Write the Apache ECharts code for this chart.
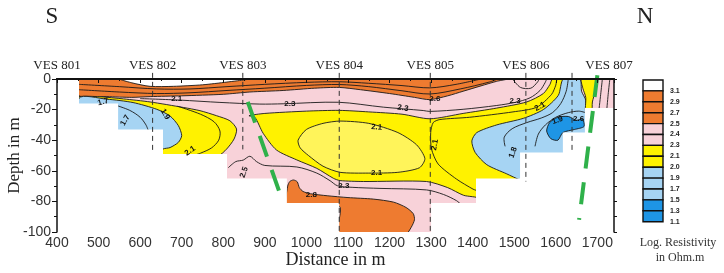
<!DOCTYPE html>
<html>
<head>
<meta charset="utf-8">
<script src="https://cdn.jsdelivr.net/npm/echarts@6/dist/echarts.min.js"></script>
<style>
  html, body { margin: 0; padding: 0; background: #fff; }
  #chart { width: 724px; height: 273px; }
</style>
</head>
<body>
<div id="chart"></div>
<script>
// soundings along the profile
var vesNames = ['VES 801', 'VES 802', 'VES 803', 'VES 804', 'VES 805', 'VES 806', 'VES 807'];
var vesDist = [400, 630, 847, 1079, 1298, 1528, 1728];
// dashed sounding lines [distance, deepest point]
var vesLines = [[630, -48], [847, -46], [1079, -100], [1298, -100], [1528, -67], [1639, -47]];

// bottom of the surveyed section, step by step [from distance, depth]
var coverEdge = [[453, -16], [547, -33], [655, -49], [809, -65], [953, -81], [1079, -100],
  [1300, -81], [1408, -65], [1514, -48], [1617, -35], [1670, -19]];
var coverEnd = 1740;

var orangeTop = [[453, 0], [1483, 0], [1458, -1.5], [1420, -4.5], [1377, -8], [1340, -11], [1297, -13.5],
  [1260, -12], [1200, -9.5], [1130, -7], [1079, -5.5], [1020, -6], [944, -7.5], [864, -8.5], [800, -10],
  [700, -11], [624, -11.5], [580, -12], [520, -11.5], [453, -11]];
var orangeLine1 = [[453, -3.5], [550, -5], [640, -6.5], [720, -6.5], [809, -5], [900, -3.5], [1000, -2.2],
  [1079, -1.8], [1150, -2.8], [1230, -4.3], [1297, -5.8], [1360, -3.5], [1420, 0]];
var orangeLine2 = [[453, -7], [550, -8.5], [640, -9.5], [720, -9], [809, -7.5], [900, -6], [1000, -4.2],
  [1079, -3.6], [1150, -5], [1230, -7.7], [1297, -9.8], [1370, -6.5], [1440, -2], [1460, 0]];
var whiteCap = [[552, 0], [580, -2.5], [624, -4.8], [680, -4.8], [750, -3.8], [809, -2], [860, 0]];
var line23 = [[600, -12.8], [696, -13.8], [792, -15.3], [888, -16.4], [944, -16.2], [1077, -15.2], [1185, -18.4],
  [1281, -20.6], [1297, -21.2], [1377, -19.8], [1458, -17.3], [1502, -15.3], [1538, -12.3], [1562, -7.5],
  [1574, -2.5], [1578, 0]];
var line25 = [[812, -58], [830, -54], [848, -53], [864, -50.5], [880, -54], [900, -56.5], [977, -57.5],
  [1025, -61.5], [1057, -66.5], [1075, -69.8], [1110, -70.8], [1177, -71.5], [1289, -72.5], [1330, -75.5],
  [1361, -79.5], [1372, -82]];
var pinkArc = [[1496, 0], [1515, -5.5], [1540, -6], [1556, -2], [1560, 0]];
var leftYellow = [[453, -11.5], [503, -11.6], [560, -13], [624, -15], [704, -18.6], [744, -20.7], [784, -24],
  [816, -27.3], [832, -32.7], [826, -39.2], [808, -45.8], [788, -50], [650, -50], [600, -35], [453, -14]];
var leftYellowLine = [[690, -17.8], [745, -23], [778, -28], [792, -34], [789, -40], [772, -45], [745, -48.5], [728, -50]];
var leftBlue = [[453, -12.6], [520, -13.2], [583, -15.4], [640, -19.8], [672, -24.2], [692, -30.5], [700, -37],
  [692, -41.4], [672, -44.8], [655, -45.8], [640, -50], [453, -50]];
var leftBlueLine = [[540, -17], [575, -20.5], [600, -25], [614, -30], [620, -34]];
var mainYellow = [[862, -24], [900, -22.5], [1000, -21], [1079, -20.5], [1150, -21.5], [1230, -23], [1297, -26],
  [1377, -22.5], [1458, -19], [1530, -15], [1570, -9.5], [1586, -3.5], [1592, 0], [1625, 0], [1625, -40],
  [1560, -70], [1430, -90], [1418, -78.4], [1378, -76], [1340, -71], [1289, -67], [1137, -67], [1081, -66.4],
  [1065, -64.9], [1025, -58.4], [977, -52.9], [928, -46.4], [896, -35.5], [876, -25]];
var ellipse21 = [[980, -40], [1000, -33], [1040, -29], [1081, -27.5], [1150, -29], [1220, -35], [1265, -43],
  [1285, -52], [1272, -58], [1220, -61], [1150, -61.5], [1081, -61], [1040, -57], [1005, -50], [985, -45]];
var rightInner = [[1299, -35], [1305, -28.5], [1321, -26.5], [1393, -25], [1497, -21.5], [1554, -18.5],
  [1590, -10], [1600, -4], [1604, 0], [1640, 0], [1640, -35], [1560, -70], [1450, -85], [1418, -74],
  [1401, -72], [1361, -65.4], [1317, -55.6], [1301, -45.8]];
var rightBlue = [[1618, 0], [1658, 0], [1662, -8], [1672, -14], [1676, -45], [1600, -75], [1514, -66],
  [1482, -62], [1434, -56], [1406, -48], [1398, -40.5], [1410, -35], [1458, -30], [1522, -25.7],
  [1570, -20], [1606, -10.7]];
var blueLine1 = [[1478, -44], [1476, -38], [1495, -32.5], [1530, -28.5], [1565, -25.5], [1592, -22],
  [1612, -16], [1625, -8], [1630, 0]];
var blueLine2 = [[1550, -44], [1558, -36], [1575, -30], [1600, -25], [1630, -22], [1655, -21], [1672, -22]];
var darkBlue = [[1578, -34], [1585, -28.5], [1605, -25], [1630, -24.5], [1650, -27], [1664, -26],
  [1668, -31], [1645, -33], [1617, -35], [1605, -40], [1588, -39]];
var topRightYellow = [[1662, 0], [1700, 0], [1695, -8], [1688, -15], [1686, -22], [1672, -22], [1672, -12], [1665, -6]];
var pinkLineR1 = [[1712, 0], [1708, -10], [1703, -22]];
var pinkLineR2 = [[1730, 0], [1726, -10], [1722, -22]];
var bottomOrange = [[953, -83], [955, -70], [960, -67], [969, -66], [978, -67.2], [983, -71], [992, -73.5],
  [1010, -75], [1050, -76.3], [1100, -77.5], [1161, -78.5], [1210, -80.5], [1240, -84], [1257, -88],
  [1260, -92], [1252, -97], [1240, -101], [1079, -101], [1079, -83]];

// faults
var fault1 = [[859, -15], [943, -80]];
var fault2 = [[1700, 2.5], [1656, -92]];

// contour labels [distance, depth, text, angle]
var contourLabels = [
  [511, -15, '1.7', 15], [564, -27, '1.7', 60], [660, -23, '1.9', -60], [688, -13, '2.1', 0],
  [720, -47, '2.1', 35], [850, -61, '2.5', 70], [960, -16, '2.3', 0], [1232, -19, '2.3', -8],
  [1169, -31.5, '2.1', -5], [1169, -61, '2.1', 0], [1090, -70, '2.3', 0], [1309, -43, '2.1', 80],
  [1309, -13, '2.6', 0], [1012, -76, '2.8', 0], [1502, -14, '2.3', 0], [1562, -18, '2.1', 30],
  [1604, -27, '1.9', 20], [1497, -48, '1.8', 70], [1655, -26, '2.6', 0]
];

// legend
var legendColors = ['#ffffff', '#ee7b30', '#ee7b30', '#ee7b30', '#f8d2d9', '#f8d2d9', '#fff200', '#fff200',
  '#a6d4f3', '#a6d4f3', '#a6d4f3', '#1e95e5', '#1e95e5'];
var legendLabels = ['3.1', '2.9', '2.7', '2.5', '2.4', '2.3', '2.1', '2.0', '1.9', '1.7', '1.5', '1.3', '1.1'];

var PINK = '#f8d2d9', ORANGE = '#ee7b30', YELLOW = '#fff200', YELLOW2 = '#fff45a',
    LBLUE = '#a6d4f3', DBLUE = '#1e95e5', INK = '#1a1a1a';
var serif = "'Liberation Serif', 'DejaVu Serif', serif";
var sans = "'Liberation Sans Narrow', 'Liberation Sans', sans-serif";

function area(pts, fill, stroke) {
    return {
        type: 'custom', clip: true, silent: true, data: [pts[0]],
        renderItem: function (params, api) {
            return {
                type: 'polygon',
                shape: { points: pts.map(function (p) { return api.coord(p); }), smooth: stroke ? 0.25 : 0 },
                style: { fill: fill, stroke: stroke || null, lineWidth: 0.9 }
            };
        }
    };
}

function curve(pts, color, width, dash, clip, smooth) {
    return {
        type: 'custom', clip: clip, silent: true, data: [pts[0]],
        renderItem: function (params, api) {
            return {
                type: 'polyline',
                shape: { points: pts.map(function (p) { return api.coord(p); }), smooth: smooth },
                style: { fill: null, stroke: color, lineWidth: width, lineDash: dash }
            };
        }
    };
}

// white area outside the surveyed section
var mask = [[390, 6], [coverEdge[0][0], 6]];
coverEdge.forEach(function (s, i) {
    var next = i + 1 < coverEdge.length ? coverEdge[i + 1][0] : coverEnd + 10;
    mask.push([s[0], s[1]], [next, s[1]]);
});
mask.push([coverEnd + 10, -110], [390, -110]);

var series = [
    area([[390, 6], [coverEnd + 10, 6], [coverEnd + 10, -110], [390, -110]], PINK),
    area(orangeTop, ORANGE, INK),
    curve(orangeLine1, INK, 0.9, null, true, 0.3),
    curve(orangeLine2, INK, 0.9, null, true, 0.3),
    area(whiteCap, '#ffffff', INK),
    curve(line23, INK, 0.9, null, true, 0.3),
    curve(line25, INK, 0.9, null, true, 0.3),
    curve(pinkArc, INK, 0.9, null, true, 0.3),
    area(leftYellow, YELLOW, INK),
    curve(leftYellowLine, INK, 0.9, null, true, 0.3),
    area(leftBlue, LBLUE, INK),
    curve(leftBlueLine, INK, 0.9, null, true, 0.3),
    area(mainYellow, YELLOW, INK),
    area(ellipse21, YELLOW2, INK),
    area(rightInner, YELLOW, INK),
    area(rightBlue, LBLUE, INK),
    curve(blueLine1, INK, 0.9, null, true, 0.3),
    curve(blueLine2, INK, 0.9, null, true, 0.3),
    area(darkBlue, DBLUE, INK),
    area(topRightYellow, YELLOW, INK),
    curve(pinkLineR1, INK, 0.9, null, true, 0.3),
    curve(pinkLineR2, INK, 0.9, null, true, 0.3),
    area(bottomOrange, ORANGE, INK),
    area(mask, '#ffffff')
];

vesLines.forEach(function (v) {
    series.push(curve([[v[0], 4], [v[0], v[1]]], '#333', 1, [5, 4], false, 0));
});
series.push(curve(fault1, '#2fb14a', 4, [22, 14], false, 0));
series.push(curve(fault2, '#2fb14a', 4, [22, 14], false, 0));

series.push({
    type: 'custom', clip: false, silent: true, data: contourLabels.map(function (c) { return [c[0], c[1]]; }),
    renderItem: function (params, api) {
        var c = contourLabels[params.dataIndex];
        var p = api.coord([c[0], c[1]]);
        return {
            type: 'text', x: p[0], y: p[1], rotation: c[3] * Math.PI / 180,
            style: { text: c[2], font: "bold 8px 'Liberation Sans', sans-serif", fill: '#111',
                     align: 'center', verticalAlign: 'middle', textAlign: 'center', textVerticalAlign: 'middle' }
        };
    }
});
series.push({
    type: 'custom', clip: false, silent: true, data: vesDist.map(function (d) { return [d, 9]; }),
    renderItem: function (params, api) {
        var p = api.coord([vesDist[params.dataIndex], 9]);
        return {
            type: 'text', x: p[0], y: p[1],
            style: { text: vesNames[params.dataIndex], font: '13px ' + serif, fill: '#222',
                     align: 'center', verticalAlign: 'middle', textAlign: 'center', textVerticalAlign: 'middle' }
        };
    }
});

var graphic = [];
legendColors.forEach(function (c, i) {
    graphic.push({ type: 'rect', shape: { x: 643, y: 80 + i * 10.9, width: 20, height: 10.9 },
                   style: { fill: c, stroke: '#111', lineWidth: 1.4 } });
    graphic.push({ type: 'text', x: 670, y: 80 + (i + 1) * 10.9,
                   style: { text: legendLabels[i], font: "bold 7px 'Liberation Sans', sans-serif", fill: '#222',
                            verticalAlign: 'middle', textVerticalAlign: 'middle' } });
});
graphic.push({ type: 'text', x: 678, y: 243, style: { text: 'Log. Resistivity', font: '12px ' + serif, fill: '#333',
               align: 'center', verticalAlign: 'middle', textAlign: 'center', textVerticalAlign: 'middle' } });
graphic.push({ type: 'text', x: 680, y: 258, style: { text: 'in Ohm.m', font: '12px ' + serif, fill: '#333',
               align: 'center', verticalAlign: 'middle', textAlign: 'center', textVerticalAlign: 'middle' } });
graphic.push({ type: 'text', x: 52, y: 17, style: { text: 'S', font: '23px ' + serif, fill: '#222',
               align: 'center', verticalAlign: 'middle', textAlign: 'center', textVerticalAlign: 'middle' } });
graphic.push({ type: 'text', x: 645, y: 17, style: { text: 'N', font: '23px ' + serif, fill: '#222',
               align: 'center', verticalAlign: 'middle', textAlign: 'center', textVerticalAlign: 'middle' } });

var chart = echarts.init(document.getElementById('chart'));
chart.setOption({
    animation: false,
    backgroundColor: '#fff',
    grid: { left: 57, right: 110, top: 79, bottom: 41, outerBoundsMode: 'none' },
    xAxis: [{
        type: 'value', min: 400, max: coverEnd, interval: 100, z: 5,
        axisLine: { lineStyle: { color: '#111', width: 2 } },
        axisTick: { length: 4, lineStyle: { color: '#111' } },
        minorTick: { show: true, splitNumber: 2, length: 2, lineStyle: { color: '#111' } },
        splitLine: { show: false },
        axisLabel: { showMaxLabel: false, color: '#333', fontFamily: sans, fontSize: 14, margin: 4,
                     formatter: function (v) { return String(v); } },
        name: 'Distance in m', nameLocation: 'middle', nameGap: 19, nameMoveOverlap: false,
        nameTextStyle: { fontFamily: serif, fontSize: 18, color: '#222' }
    }, {
        type: 'value', position: 'top', min: 400, max: coverEnd, z: 5,
        axisLine: { lineStyle: { color: '#111', width: 2 } },
        axisTick: { show: false }, axisLabel: { show: false }, splitLine: { show: false }
    }],
    yAxis: [{
        type: 'value', min: -100, max: 0, interval: 20, z: 5,
        axisLine: { lineStyle: { color: '#111', width: 1.5 } },
        axisTick: { length: 5, lineStyle: { color: '#111' } },
        minorTick: { show: true, splitNumber: 2, length: 3, lineStyle: { color: '#111' } },
        splitLine: { show: false },
        axisLabel: { color: '#333', fontFamily: sans, fontSize: 14, margin: 6 },
        name: 'Depth in m', nameLocation: 'middle', nameGap: 34, nameMoveOverlap: false,
        nameTextStyle: { fontFamily: serif, fontSize: 17, color: '#222' }
    }, {
        type: 'value', position: 'right', min: -100, max: 0, interval: 10, z: 5,
        axisLine: { lineStyle: { color: '#111', width: 1.5 } },
        axisTick: { length: 3, lineStyle: { color: '#111' } },
        axisLabel: { show: false }, splitLine: { show: false }
    }],
    graphic: graphic,
    series: series
});
</script>
</body>
</html>
